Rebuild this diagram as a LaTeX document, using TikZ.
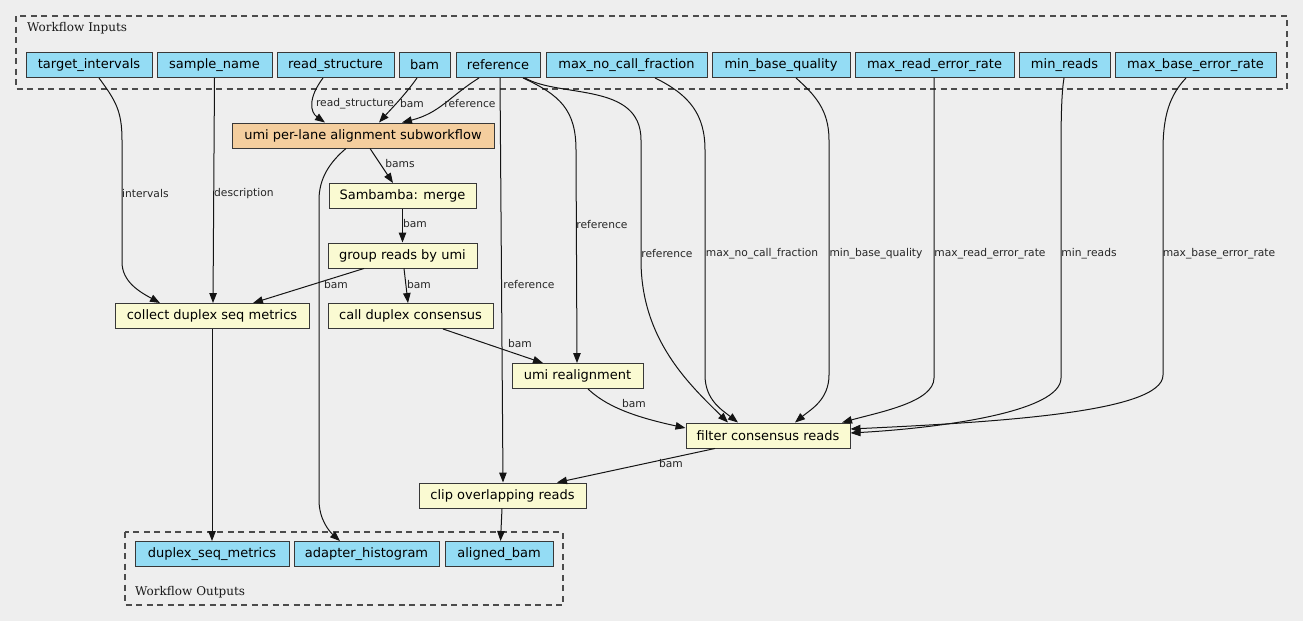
\documentclass[tikz,border=0pt]{standalone}
\usepackage{fontspec}
\setmainfont{DejaVu Sans}
\newfontfamily\clfont{DejaVu Serif}
\usetikzlibrary{arrows.meta}
\definecolor{bg}{RGB}{238,238,238}
\definecolor{inblue}{RGB}{148,220,244}
\definecolor{stepyel}{RGB}{250,250,210}
\definecolor{subtan}{RGB}{244,206,158}
\definecolor{edgecol}{RGB}{20,20,20}
\tikzset{
  box/.style={draw=black!78, line width=0.95pt, inner sep=0pt, minimum height=25pt,
    font=\fontsize{13}{15}\selectfont, text=black},
  inp/.style={box, fill=inblue},
  stp/.style={box, fill=stepyel},
  subw/.style={box, fill=subtan},
  lbl/.style={font=\fontsize{10.7}{12}\selectfont, text=black!85, inner sep=0pt},
  edge/.style={draw=edgecol, line width=1pt, -{Triangle[length=10pt,width=7.5pt]}},
  cluster/.style={draw=black!70, line width=1.2pt, dash pattern=on 6pt off 4.5pt},
  cllabel/.style={font=\clfont\fontsize{12}{14}\selectfont, text=black!90, inner sep=0pt, anchor=base west}
}
\begin{document}
\begin{tikzpicture}[x=1pt,y=-1pt]
\fill[bg] (0,0) rectangle (1303,621);
\useasboundingbox (0,0) rectangle (1303,621);
% clusters
\draw[cluster] (16,16) rectangle (1287,89);
\node[cllabel] (inlab) at (27,31.5) {Workflow Inputs};
\draw[cluster] (125,532) rectangle (563,605);
\node[cllabel] (outlab) at (135,595) {Workflow Outputs};
% inputs
\node[inp, minimum width=126pt] (ti)  at (89,65)    {target\_intervals};
\node[inp, minimum width=115pt] (sn)  at (214.5,65) {sample\_name};
\node[inp, minimum width=117pt] (rs)  at (335.5,65) {read\_structure};
\node[inp, minimum width=51pt]  (bam) at (424.5,65) {bam};
\node[inp, minimum width=84pt]  (ref) at (498,65)   {reference};
\node[inp, minimum width=161pt] (mnc) at (626.5,65) {max\_no\_call\_fraction};
\node[inp, minimum width=138pt] (mbq) at (781,65)   {min\_base\_quality};
\node[inp, minimum width=159pt] (mre) at (934.5,65) {max\_read\_error\_rate};
\node[inp, minimum width=91pt]  (mr)  at (1064.5,65){min\_reads};
\node[inp, minimum width=161pt] (mbe) at (1195.5,65){max\_base\_error\_rate};
% steps
\node[subw, minimum width=262pt] (umi) at (363,135.5) {umi per-lane alignment subworkflow};
\node[stp, minimum width=147pt] (sam) at (402.5,196) {Sambamba: merge};
\node[stp, minimum width=149pt] (grp) at (402.5,255.5) {group reads by umi};
\node[stp, minimum width=194pt] (coll) at (212,316) {collect duplex seq metrics};
\node[stp, minimum width=165pt] (call) at (410.5,316) {call duplex consensus};
\node[stp, minimum width=131pt] (real) at (577.5,376) {umi realignment};
\node[stp, minimum width=164pt] (filt) at (768,435.5) {filter consensus reads};
\node[stp, minimum width=167pt] (clip) at (502.5,495.5) {clip overlapping reads};
% outputs
\node[inp, minimum width=154pt] (dsm) at (212,554) {duplex\_seq\_metrics};
\node[inp, minimum width=145pt] (ah)  at (366.5,554) {adapter\_histogram};
\node[inp, minimum width=108pt] (ab)  at (499,554) {aligned\_bam};
% edges
\draw[edge] ([xshift=10pt]ti.south) .. controls (115,100) and (122,110) .. (122,140) -- (122,262) .. controls (122,282) and (140,292) .. ([xshift=-52pt]coll.north);
\node[lbl, anchor=west] (l1) at (122,194) {intervals};
\draw[edge] (sn.south) -- ([xshift=1pt]coll.north);
\node[lbl, anchor=west] (l2) at (214,194) {description};
\draw[edge] ([xshift=-12.5pt]rs.south) .. controls (308,98) and (310,112) .. ([xshift=-38pt]umi.north);
\node[lbl] (l3) at (355,104) {read\_structure};
\draw[edge] ([xshift=-7.5pt]bam.south) .. controls (405,95) and (392,108) .. ([xshift=16pt]umi.north);
\node[lbl] (l4) at (412,104) {bam};
\draw[edge] ([xshift=-19pt]ref.south) .. controls (450,96) and (440,113) .. ([xshift=39pt]umi.north);
\node[lbl] (l5) at (470,104) {reference};
\draw[edge] ([xshift=7pt]umi.south) -- ([xshift=-9.5pt]sam.north);
\node[lbl] (l6) at (400,164) {bams};
\draw[edge] ([xshift=-17pt]umi.south) .. controls (330,162) and (319,178) .. (319,200) -- (319,500) .. controls (319,520) and (330,532) .. ([xshift=-26.5pt]ah.north);
\draw[edge] (sam.south) -- (grp.north);
\node[lbl] (l7) at (415,224) {bam};
\draw[edge] ([xshift=-38.5pt]grp.south) -- ([xshift=41pt]coll.north);
\node[lbl] (l8) at (336,285) {bam};
\draw[edge] ([xshift=1.5pt]grp.south) -- ([xshift=-2.5pt]call.north);
\node[lbl] (l9) at (419,285) {bam};
\draw[edge] ([xshift=2pt]ref.south) -- ([xshift=0.5pt]clip.north);
\node[lbl] (l10) at (529,285) {reference};
\draw[edge] ([xshift=25pt]ref.south) .. controls (560,95) and (576,110) .. (576,150) -- ([xshift=-0.5pt]real.north);
\node[lbl] (l11) at (602,225) {reference};
\draw[edge] ([xshift=27pt]ref.south) .. controls (560,98) and (641,82) .. (641,140) -- (641,260) .. controls (641,340) and (690,385) .. ([xshift=-40pt]filt.north);
\node[lbl] (l12) at (667,254) {reference};
\draw[edge] ([xshift=32.5pt]call.south) -- ([xshift=-34.5pt]real.north);
\node[lbl] (l13) at (520,344) {bam};
\draw[edge] ([xshift=10.5pt]real.south) .. controls (605,405) and (630,416) .. ([yshift=7.5pt]filt.west);
\node[lbl] (l14) at (634,404) {bam};
\draw[edge] ([xshift=28.5pt]mnc.south) .. controls (690,95) and (705,115) .. (705,150) -- (705,375) .. controls (705,400) and (722,410) .. ([xshift=-30pt]filt.north);
\node[lbl] (l15) at (762,254) {max\_no\_call\_fraction};
\draw[edge] ([xshift=15pt]mbq.south) .. controls (815,95) and (829,110) .. (829,140) -- (829,375) .. controls (829,400) and (810,410) .. ([xshift=27pt]filt.north);
\node[lbl] (l16) at (876,254) {min\_base\_quality};
\draw[edge] ([xshift=-0.5pt]mre.south) -- (934,378) .. controls (934,402) and (880,412) .. ([xshift=74pt]filt.north);
\node[lbl] (l17) at (990,254) {max\_read\_error\_rate};
\draw[edge] ([xshift=-0.5pt]mr.south) .. controls (1062,90) and (1061,110) .. (1061,150) -- (1061,378) .. controls (1061,412) and (940,428) .. ([yshift=2.5pt]filt.east);
\node[lbl] (l18) at (1089,254) {min\_reads};
\draw[edge] ([xshift=-9.5pt]mbe.south) .. controls (1170,95) and (1163,115) .. (1163,150) -- (1163,375) .. controls (1163,412) and (1000,422) .. ([yshift=6.5pt]filt.east);
\node[lbl] (l19) at (1219,254) {max\_base\_error\_rate};
\draw[edge] ([xshift=-53pt]filt.south) -- ([xshift=54.5pt]clip.north);
\node[lbl] (l20) at (671,464) {bam};
\draw[edge] (coll.south) -- (dsm.north);
\draw[edge] ([xshift=-0.5pt]clip.south) -- ([xshift=1.5pt]ab.north);
\end{tikzpicture}
\end{document}
